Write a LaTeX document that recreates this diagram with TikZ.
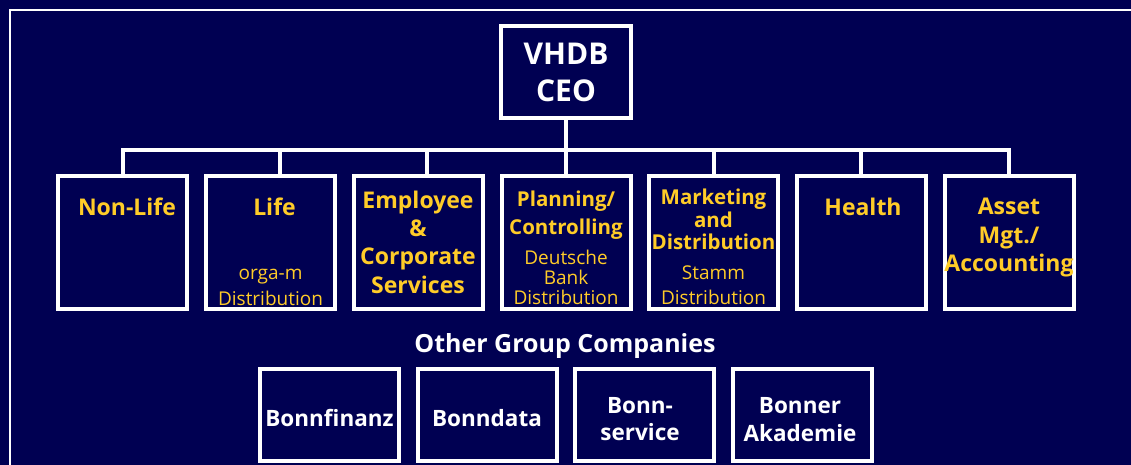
\documentclass[tikz,border=0pt]{standalone}
\usepackage{fontspec}
\setmainfont{Open Sans}
\usetikzlibrary{calc}
\definecolor{navy}{RGB}{0,0,82}
\definecolor{gold}{RGB}{255,204,40}
\tikzset{
  orgbox/.style={draw=white, line width=4pt, inner sep=0pt},
  deptbox/.style={orgbox, minimum width=129pt, minimum height=133pt},
  compbox/.style={orgbox, minimum width=139pt, minimum height=92pt},
  bus/.style={white, line width=4pt},
  title/.style={anchor=base, align=center, inner sep=0pt, text=gold, font=\bfseries\fontsize{23}{28.4}\selectfont},
  smalltitle/.style={title, font=\bfseries\fontsize{20.5}{27.6}\selectfont},
  sub/.style={anchor=base, align=center, inner sep=0pt, text=gold, font=\fontsize{19}{26}\selectfont},
  whitetext/.style={anchor=base, align=center, inner sep=0pt, text=white, font=\bfseries\fontsize{22.5}{27}\selectfont}
}
\begin{document}
\begin{tikzpicture}[x=1pt, y=-1pt]
  \useasboundingbox (0,0) rectangle (1131,465);
  \fill[navy] (0,0) rectangle (1131,465);
  \clip (0,0) rectangle (1131,465);
  \draw[white, line width=2.5pt] (10,480) -- (10,10) -- (1140,10);

  \node[orgbox, minimum width=130pt, minimum height=92pt] (ceo) at (566,72) {};
  \node[deptbox] (nonlife) at (122.5,242.5) {};
  \node[deptbox] (life) at (270.5,242.5) {};
  \node[deptbox] (employee) at (418,242.5) {};
  \node[deptbox] (planning) at (566,242.5) {};
  \node[deptbox] (marketing) at (713.5,242.5) {};
  \node[deptbox] (health) at (861,242.5) {};
  \node[deptbox] (asset) at (1009,242.5) {};

  \node[compbox] (finanz) at (329.5,415) {};
  \node[compbox] (data) at (487,415) {};
  \node[compbox] (service) at (644,415) {};
  \node[compbox] (akademie) at (802,415) {};

  \coordinate (busL) at (122.5,150.5);
  \draw[bus] (ceo.south) -- (ceo.south |- busL);
  \draw[bus] (nonlife.north) -- (nonlife.north |- busL) -- (asset.north |- busL) -- (asset.north);
  \foreach \b in {planning,marketing,health}
    \draw[bus] (\b.north) -- (\b.north |- busL);
  \foreach \b in {life,employee}
    \draw[bus] ($(\b.north)+(9,0)$) -- ($(\b.north |- busL)+(9,0)$);

  \node[whitetext, font=\bfseries\fontsize{30}{36.7}\selectfont] (ceotext) at (566,101.7) {VHDB\\CEO};

  \node[title] (nonlifetext) at (127,215) {Non-Life};
  \node[title] (lifetext) at (274.5,215) {Life};
  \node[sub] (lifesub) at (270.5,305) {orga-m\\Distribution};
  \node[title] (employeetext) at (418,293.3) {Employee\\\&\\Corporate\\Services};
  \node[smalltitle] (planningtext) at (566,234.3) {Planning/\\Controlling};
  \node[sub, font=\fontsize{19}{20}\selectfont] (planningsub) at (566,304.3) {Deutsche\\Bank\\Distribution};
  \node[smalltitle, font=\bfseries\fontsize{20.5}{22.2}\selectfont] (marketingtext) at (713.5,249.3) {Marketing\\and\\Distribution};
  \node[sub, font=\fontsize{19}{25.3}\selectfont] (marketingsub) at (713.5,304.3) {Stamm\\Distribution};
  \node[title] (healthtext) at (863,215) {Health};
  \node[title] (assettext) at (1009,271.7) {Asset\\Mgt./\\Accounting};

  \node[whitetext, font=\bfseries\fontsize{25}{28}\selectfont] (othertext) at (565,352.3) {Other Group Companies};
  \node[whitetext] (finanztext) at (329.5,426.7) {Bonnfinanz};
  \node[whitetext] (datatext) at (487,426.5) {Bonndata};
  \node[whitetext] (servicetext) at (640,440) {Bonn-\\service};
  \node[whitetext, font=\bfseries\fontsize{22.5}{28.7}\selectfont] (akademietext) at (800,441.7) {Bonner\\Akademie};
\end{tikzpicture}
\end{document}
